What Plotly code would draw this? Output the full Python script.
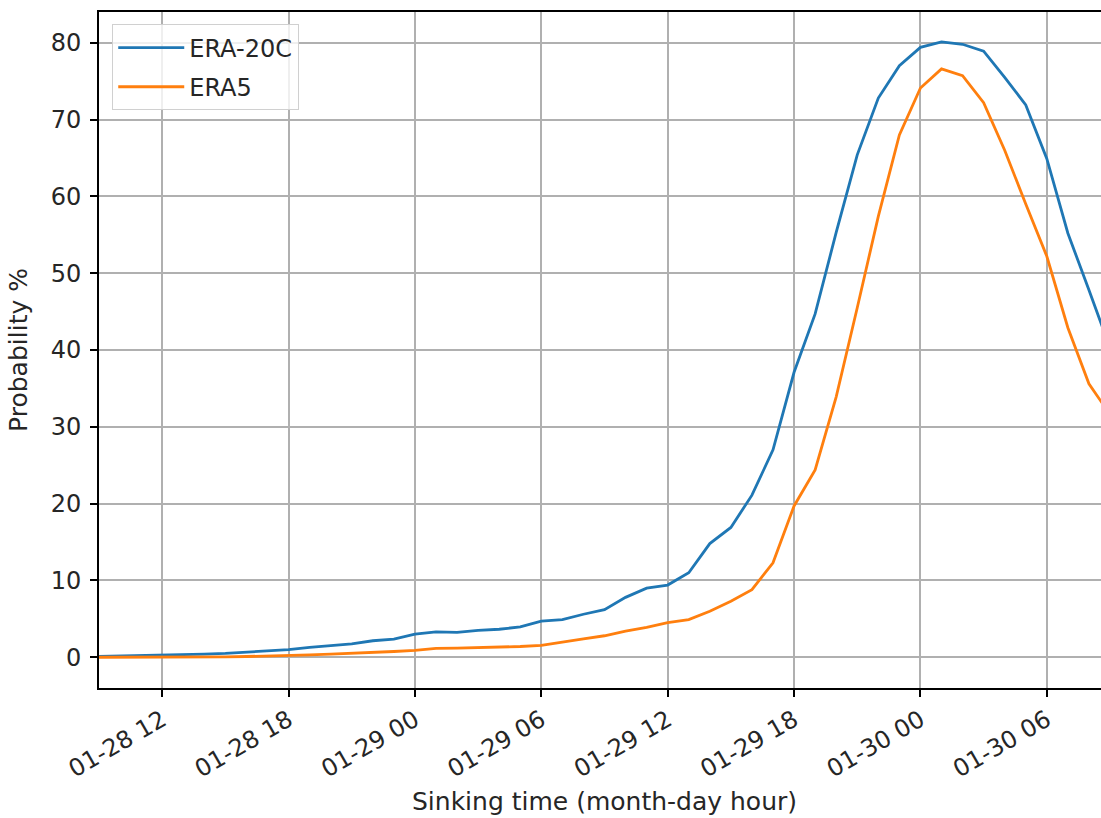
import plotly.graph_objects as go
import pandas as pd

# Hourly sinking-time axis
times = pd.date_range("1953-01-28 09:00", "1953-01-30 09:00", freq="h")

era20c = [0.1, 0.15, 0.2, 0.25, 0.3, 0.4, 0.5, 0.65, 0.8, 1.0,
          1.3, 1.55, 1.75, 2.15, 2.35, 3.0,
          3.3, 3.25, 3.5, 3.65, 3.95, 4.7, 4.9, 5.6, 6.2, 7.8, 9.0, 9.4,
          11.0, 14.8, 16.9, 21.1, 27.0, 37.1, 44.7, 55.3, 65.4, 72.8, 77.0,
          79.4, 80.1, 79.8, 78.9, 75.5, 71.9, 64.9, 55.2, 47.8, 40.3]

era5 = [0.0, 0.0, 0.0, 0.0, 0.0, 0.02, 0.05, 0.1, 0.15, 0.2,
        0.3, 0.4, 0.5, 0.65, 0.75, 0.9,
        1.15, 1.2, 1.25, 1.3, 1.4, 1.55, 2.0, 2.4, 2.8, 3.4, 3.9, 4.5,
        4.9, 6.0, 7.3, 8.8, 12.3, 19.7, 24.4, 33.9, 45.5, 57.4, 68.0,
        74.1, 76.6, 75.7, 72.2, 66.0, 59.0, 52.2, 42.9, 35.6, 31.6]

x_ticks = pd.date_range("1953-01-28 12:00", "1953-01-30 06:00", freq="6h")
y_ticks = [0, 10, 20, 30, 40, 50, 60, 70, 80]

font = dict(family="DejaVu Sans", size=24, color="#262626")
tick_font = dict(family="DejaVu Sans", size=24, color="#262626")
title_font = dict(family="DejaVu Sans", size=25, color="#262626")

fig = go.Figure()
fig.add_trace(go.Scatter(x=times, y=era20c, mode="lines", name="ERA-20C",
                         legendgroup="a",
                         line=dict(color="#1f77b4", width=2.8)))
fig.add_trace(go.Scatter(x=times, y=era5, mode="lines", name="ERA5",
                         legendgroup="b",
                         line=dict(color="#ff7f0e", width=2.8)))

fig.update_layout(
    width=1120, height=818, autosize=False,
    margin=dict(l=99, r=10, t=12, b=130, autoexpand=False),
    paper_bgcolor="white", plot_bgcolor="white",
    font=font,
    showlegend=True,
    legend=dict(x=0.0128, y=0.982, xanchor="left", yanchor="top",
                bgcolor="rgba(255,255,255,0.8)", bordercolor="#d0d0d0",
                borderwidth=1.3, font=font, itemwidth=66,
                tracegroupgap=5),
)
fig.update_xaxes(
    range=["1953-01-28 09:00", "1953-01-30 09:00"],
    tickvals=x_ticks, tickformat="%m-%d %H", tickangle=-30,
    tickfont=tick_font,
    showgrid=True, gridcolor="#b0b0b0", gridwidth=1.6,
    showline=True, linecolor="black", linewidth=1.6, mirror=True,
    ticks="outside", ticklen=7, tickcolor="black", tickwidth=1.6,
    ticklabelstandoff=0, automargin=False,
    title=dict(text="Sinking time (month-day hour)", standoff=10, font=title_font),
    zeroline=False,
)
fig.update_yaxes(
    range=[-4.0, 84.0],
    tickvals=y_ticks,
    tickfont=tick_font,
    showgrid=True, gridcolor="#b0b0b0", gridwidth=1.6,
    showline=True, linecolor="black", linewidth=1.6, mirror=True,
    ticks="outside", ticklen=7, tickcolor="black", tickwidth=1.6,
    ticklabelstandoff=4, automargin=False,
    title=dict(text="Probability %", standoff=16, font=title_font),
    zeroline=False,
)

fig.write_html(
    "out.html",
    config={"responsive": False, "displayModeBar": False},
    post_script="document.body.style.margin='0';document.body.style.overflow='hidden';",
)
